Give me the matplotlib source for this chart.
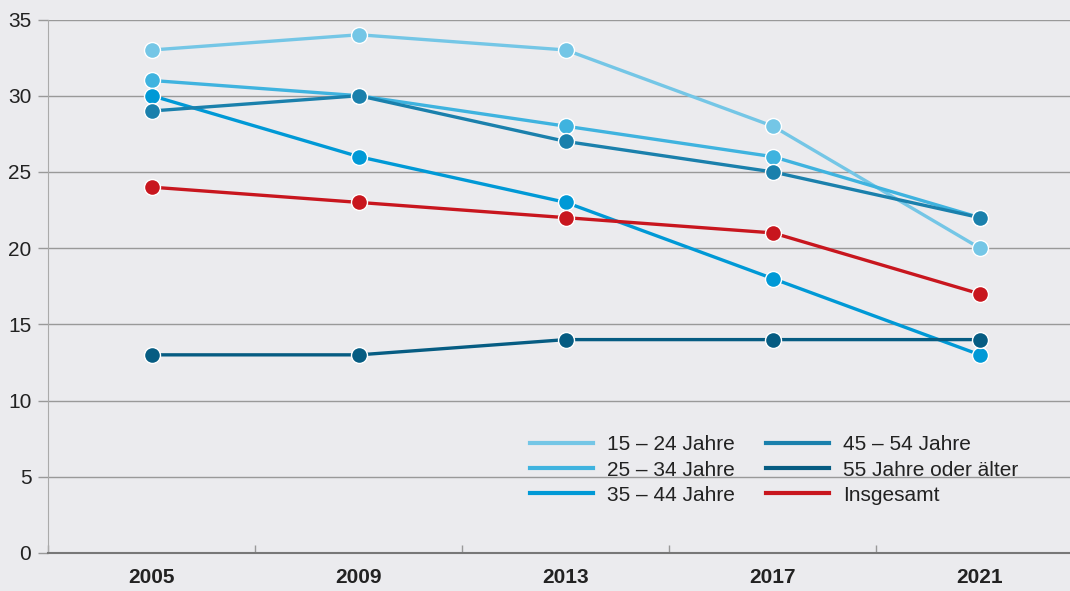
import numpy as np
import matplotlib.pyplot as plt

years = ['2005', '2009', '2013', '2017', '2021']
labels = ['15 – 24 Jahre', '25 – 34 Jahre', '35 – 44 Jahre',
          '45 – 54 Jahre', '55 Jahre oder älter', 'Insgesamt']
v_15_24 = [33, 34, 33, 28, 20]
v_25_34 = [31, 30, 28, 26, 22]
v_35_44 = [30, 26, 23, 18, 13]
v_45_54 = [29, 30, 27, 25, 22]
v_55 = [13, 13, 14, 14, 14]
v_all = [24, 23, 22, 21, 17]
series = [v_15_24, v_25_34, v_35_44, v_45_54, v_55, v_all]
colors = ['#74c6e6', '#3fb3df', '#0099d6', '#1a80ac', '#065c82', '#c8161e']

bg = '#ebebee'
plt.rcParams['font.family'] = ['Liberation Sans', 'DejaVu Sans']

fig = plt.figure(figsize=(10.7, 5.91), dpi=100, facecolor=bg)
ax = fig.add_axes([48 / 1070, 38 / 591, 1 - 48 / 1070, (553 - 19.5) / 591])
ax.set_facecolor(bg)

x = np.arange(len(years))
for vals, lab, c in zip(series, labels, colors):
    ax.plot(x, vals, color=c, lw=2.4, marker='o', ms=11.5,
            mfc=c, mec='white', mew=1.0, label=lab, solid_capstyle='round')

ax.set_xlim(-0.502, 4.435)
ax.set_ylim(0, 35)
ax.set_yticks(range(0, 36, 5))
ax.set_xticks(x)
ax.set_xticklabels(years, fontsize=15, fontweight='bold', color='#222222')
ax.set_xticks(np.arange(-0.5, 4.5, 1), minor=True)
ax.tick_params(axis='x', which='major', length=0, pad=11)
ax.tick_params(axis='x', which='minor', length=6, direction='in', color='#999999', width=1)
ax.tick_params(axis='y', length=7, color='#999999', width=1, labelsize=15,
               labelcolor='#222222', pad=5)
ax.grid(axis='y', color='#999999', lw=1)
ax.set_axisbelow(True)
for s in ['top', 'right']:
    ax.spines[s].set_visible(False)
ax.spines['left'].set_color('#aaaaaa')
ax.spines['bottom'].set_color('#777777')
ax.spines['bottom'].set_linewidth(1.5)

handles = [plt.Line2D([], [], color=c, lw=3) for c in colors]
leg = ax.legend(handles, labels, ncol=2, loc='center left',
                bbox_to_anchor=((530 - 48) / 1022, (553 - 470) / 533.5),
                frameon=False, fontsize=15, handlelength=3.0, handletextpad=0.7,
                columnspacing=1.5, labelspacing=0.3, borderpad=0, borderaxespad=0)
for t in leg.get_texts():
    t.set_color('#222222')

fig.savefig('out.png', dpi=100, facecolor=bg)
